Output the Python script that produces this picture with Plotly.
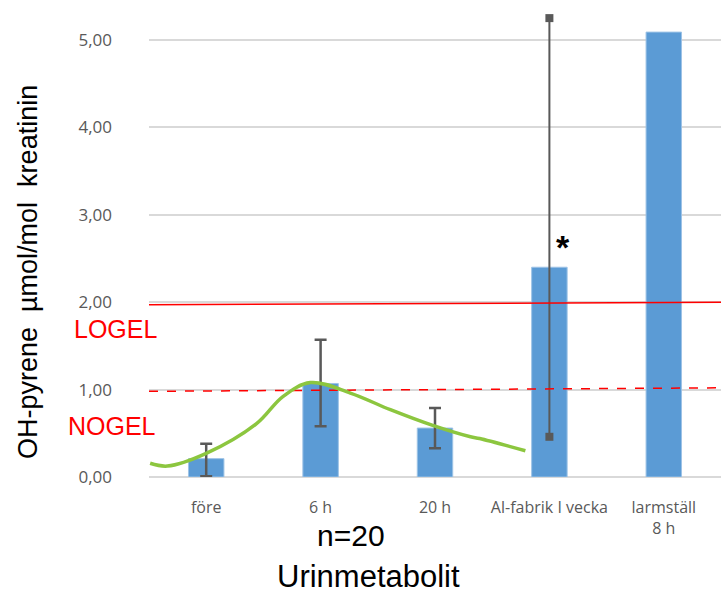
import plotly.graph_objects as go

categories = ["före", "6 h", "20 h", "Al-fabrik I vecka", "larmställ<br>8 h"]
means = [0.21, 1.07, 0.56, 2.40, 5.09]
err_upper = [0.38, 1.57, 0.79]
err_lower = [0.01, 0.58, 0.33]
alfab_range = [0.46, 5.25]
logel = [1.97, 2.00]
nogel = [0.98, 1.02]
curve_x = [-0.49, -0.34, 0.0, 0.44, 0.67, 0.91, 1.26, 1.61, 1.98, 2.31, 2.39, 2.79]
curve_y = [0.157, 0.125, 0.27, 0.61, 0.92, 1.08, 0.96, 0.77, 0.59, 0.46, 0.44, 0.30]
y_ticks = [0, 1, 2, 3, 4, 5]

xs = list(range(len(categories)))
fig = go.Figure()
fig.add_trace(go.Bar(x=xs, y=means, width=0.31, marker=dict(color="#5b9bd5", line=dict(color="#9dc3e6", width=1)), showlegend=False))
fig.add_trace(go.Scatter(
    x=xs[:3], y=means[:3], mode="markers", marker=dict(size=1, opacity=0), showlegend=False,
    error_y=dict(type="data", symmetric=False,
                 array=[u - m for u, m in zip(err_upper, means)],
                 arrayminus=[m - l for l, m in zip(err_lower, means)],
                 color="#595959", thickness=2.5, width=6)))
fig.add_trace(go.Scatter(x=[3, 3], y=alfab_range, mode="lines+markers",
                         line=dict(color="#595959", width=2),
                         marker=dict(symbol="square", size=8, color="#595959"), showlegend=False))
fig.add_trace(go.Scatter(x=[-0.5, 4.5], y=logel, mode="lines", line=dict(color="#ff0000", width=1.5), showlegend=False))
fig.add_trace(go.Scatter(x=[-0.5, 4.5], y=nogel, mode="lines", line=dict(color="#ff0000", width=1.5, dash="dash"), showlegend=False))
fig.add_trace(go.Scatter(x=curve_x, y=curve_y, mode="lines", line=dict(color="#8cc63f", width=3.5, shape="spline"), showlegend=False))

AR = "Liberation Sans, Arial"
fig.update_layout(
    width=722, height=595,
    margin=dict(l=149, r=1, t=5, b=118),
    plot_bgcolor="white", paper_bgcolor="white",
    separators=",.",
    font=dict(family="Open Sans, DejaVu Sans", color="#595959"),
    xaxis=dict(range=[-0.5, 4.5], tickvals=xs, ticktext=categories, showgrid=False,
               zeroline=False, showline=False, tickfont=dict(size=16, color="#595959"),
               ticks="", ticklabelstandoff=19),
    yaxis=dict(range=[0, 5.40], tickvals=y_ticks, tickformat=".2f", showgrid=True,
               gridcolor="#d9d9d9", gridwidth=1.5, zeroline=True, zerolinecolor="#d9d9d9",
               zerolinewidth=1.5, showline=False, tickfont=dict(size=17, color="#595959"),
               ticks="", ticklabelstandoff=36),
    annotations=[
        dict(text="OH-pyrene  µmol/mol  kreatinin", xref="paper", yref="paper",
             x=(28 - 149) / 572, y=(477 - 272) / 472, textangle=-90, showarrow=False,
             xanchor="center", yanchor="middle",
             font=dict(family=AR, size=27, color="black")),
        dict(text="Urinmetabolit", xref="paper", yref="paper", x=(368 - 149) / 572,
             y=-(576 - 477) / 472, showarrow=False, xanchor="center", yanchor="middle",
             font=dict(family=AR, size=31, color="black")),
        dict(text="n=20", xref="paper", yref="paper", x=(351 - 149) / 572,
             y=-(535 - 477) / 472, showarrow=False, xanchor="center", yanchor="middle",
             font=dict(family=AR, size=30, color="black")),
        dict(text="LOGEL", xref="paper", yref="paper", x=(115 - 149) / 572,
             y=(477 - 329) / 472, showarrow=False, xanchor="center", yanchor="middle",
             font=dict(family=AR, size=25, color="#ff0000")),
        dict(text="NOGEL", xref="paper", yref="paper", x=(112 - 149) / 572,
             y=(477 - 426) / 472, showarrow=False, xanchor="center", yanchor="middle",
             font=dict(family=AR, size=25, color="#ff0000")),
        dict(text="<b>*</b>", x=3.12, y=2.63, xref="x", yref="y", showarrow=False,
             xanchor="center", yanchor="middle",
             font=dict(family=AR, size=34, color="black")),
    ],
)
fig.write_html("out.html", config={"displayModeBar": False},
               post_script="document.body.style.margin='0';")
